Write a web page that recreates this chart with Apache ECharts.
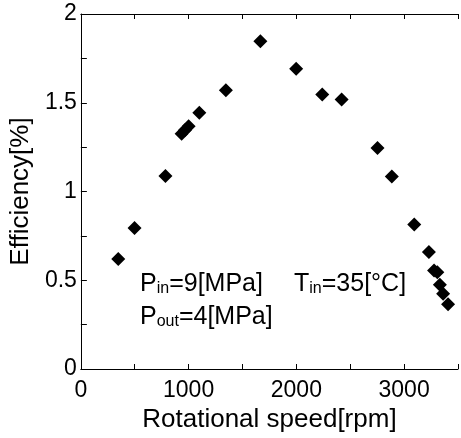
<!DOCTYPE html>
<html>
<head>
<meta charset="utf-8">
<script src="https://cdn.jsdelivr.net/npm/echarts@6/dist/echarts.min.js"></script>
<style>
html,body{margin:0;padding:0;background:#fff;}
#c{width:461px;height:438px;}
</style>
</head>
<body>
<div id="c"></div>
<script>
// Data
var speed = [347, 498, 785, 935, 965, 1000, 1099, 1346, 1666, 1998, 2240, 2420, 2753, 2886, 3094, 3230, 3278, 3308, 3332, 3362, 3408];
var efficiency = [0.62, 0.794, 1.087, 1.326, 1.345, 1.368, 1.444, 1.571, 1.847, 1.692, 1.547, 1.519, 1.245, 1.085, 0.814, 0.659, 0.555, 0.545, 0.475, 0.424, 0.365];
var xTickLabels = ['0', '1000', '2000', '3000'];
var yTickLabels = ['0', '0.5', '1', '1.5', '2'];
var xTitle = 'Rotational speed[rpm]';
var yTitle = 'Efficiency[%]';

var FONT = 'Liberation Sans, Arial, sans-serif';
var points = speed.map(function (s, i) { return [s, efficiency[i]]; });

var chart = echarts.init(document.getElementById('c'), null, {renderer: 'canvas'});

var rich = {
  a: {fontSize: 25, fontFamily: FONT, color: '#000', lineHeight: 26, verticalAlign: 'bottom'},
  s: {fontSize: 16, fontFamily: FONT, color: '#000', lineHeight: 11, verticalAlign: 'bottom'}
};

chart.setOption({
  animation: false,
  backgroundColor: '#fff',
  grid: {left: 72, right: 2, top: 14, bottom: 62, containLabel: false},
  xAxis: [{
    type: 'value', min: 0, max: 3500, interval: 500, position: 'bottom',
    name: xTitle, nameLocation: 'middle', nameGap: 38,
    nameTextStyle: {fontSize: 26, fontFamily: FONT, color: '#000'},
    axisLine: {show: true, lineStyle: {color: '#000', width: 1}},
    axisTick: {show: true, inside: true, length: 5, lineStyle: {color: '#000'}},
    axisLabel: {
      fontSize: 23, fontFamily: FONT, color: '#000', margin: 10,
      formatter: function (v) { var i = xTickLabels.indexOf(String(v)); return i >= 0 ? xTickLabels[i] : ''; }
    },
    splitLine: {show: false}
  }, {
    type: 'value', min: 0, max: 3500, interval: 500, position: 'top',
    axisLine: {show: true, onZero: false, lineStyle: {color: '#000', width: 1}},
    axisTick: {show: true, inside: true, length: 5, lineStyle: {color: '#000'}},
    axisLabel: {show: false},
    splitLine: {show: false}
  }],
  yAxis: [{
    type: 'value', min: 0, max: 2, interval: 0.25,
    name: yTitle, nameLocation: 'middle', nameGap: 22, nameRotate: 90,
    nameTextStyle: {fontSize: 26, fontFamily: FONT, color: '#000'},
    axisLine: {show: true, lineStyle: {color: '#000', width: 1}},
    axisTick: {show: true, inside: true, length: 6, lineStyle: {color: '#000'}},
    axisLabel: {
      fontSize: 23, fontFamily: FONT, color: '#000', margin: 4, showMinLabel: true, showMaxLabel: true,
      formatter: function (v) { var i = yTickLabels.indexOf(String(v)); return i >= 0 ? yTickLabels[i] : ''; }
    },
    splitLine: {show: false}
  }],
  series: [{
    type: 'scatter',
    data: points,
    symbol: 'diamond',
    symbolSize: 14,
    itemStyle: {color: '#000', opacity: 1}
  }],
  graphic: [
    {type: 'text', left: 140, top: 272, style: {text: '{a|P}{s|in}{a|=9[MPa]}', rich: rich}},
    {type: 'text', left: 294, top: 272, style: {text: '{a|T}{s|in}{a|=35[°C]}', rich: rich}},
    {type: 'text', left: 140, top: 305, style: {text: '{a|P}{s|out}{a|=4[MPa]}', rich: rich}}
  ]
});
</script>
</body>
</html>
